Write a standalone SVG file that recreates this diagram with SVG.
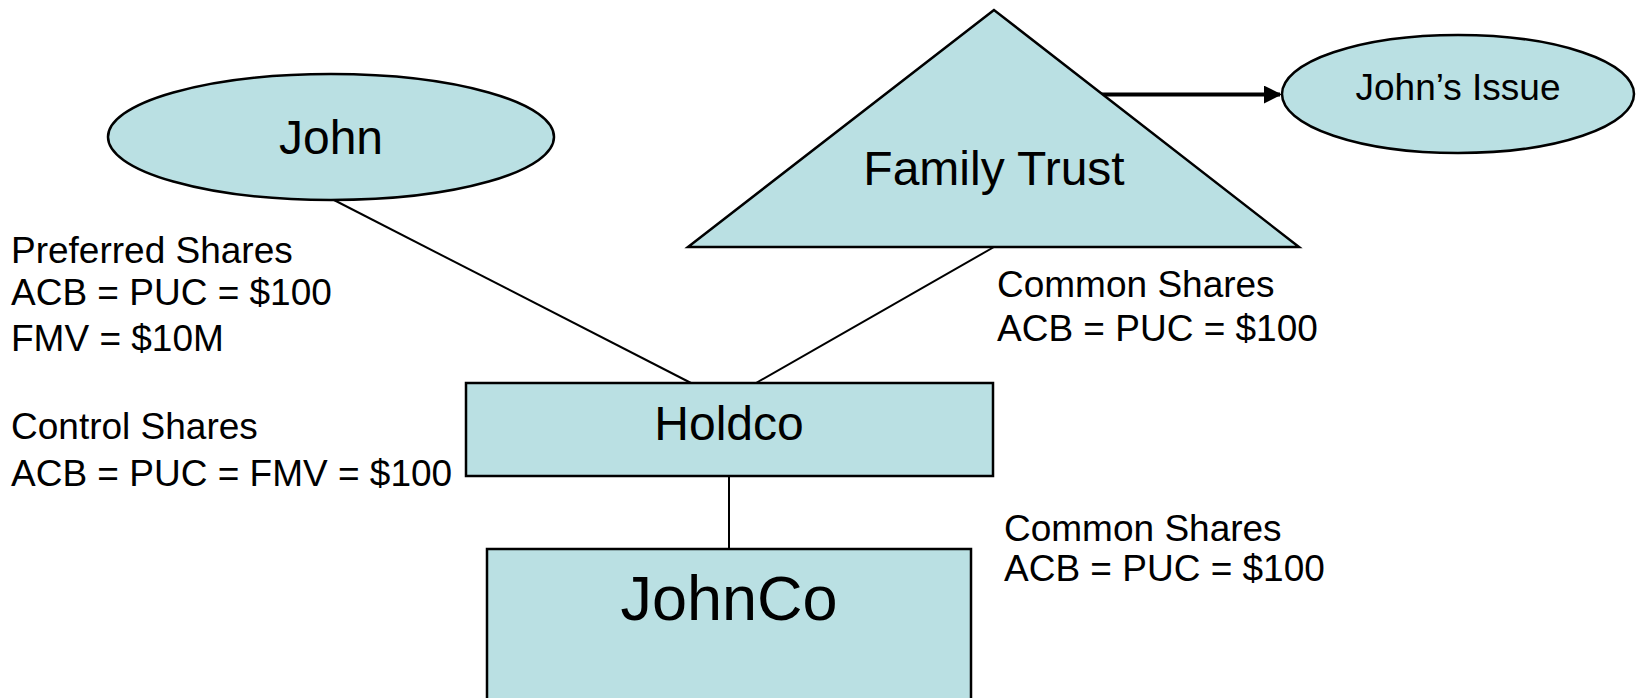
<svg xmlns="http://www.w3.org/2000/svg" width="1637" height="698" viewBox="0 0 1637 698">
  <style>
    .shape { fill: #bae0e3; stroke: #000; stroke-width: 2.5; }
    .link { stroke: #000; stroke-width: 2; fill: none; }
    .big { font-family: "Liberation Sans", Arial, sans-serif; font-size: 48px; fill: #000; text-anchor: middle; }
    .label { font-family: "Liberation Sans", Arial, sans-serif; font-size: 37px; fill: #000; }
  </style>
  <defs>
    <marker id="arrowhead" viewBox="0 0 10 10" refX="9" refY="5" markerWidth="4.5" markerHeight="4.5" orient="auto" markerUnits="strokeWidth">
      <path d="M0,0 L10,5 L0,10 z" fill="#000"/>
    </marker>
  </defs>

  <rect width="1637" height="698" fill="#fff"/>

  <!-- connectors -->
  <g id="connectors">
    <line class="link" x1="332" y1="199" x2="691" y2="383"/>
    <line class="link" x1="994" y1="247" x2="756" y2="383"/>
    <line class="link" x1="729" y1="476" x2="729" y2="549"/>
    <line x1="1098" y1="94.5" x2="1280" y2="94.5" stroke="#000" stroke-width="4" marker-end="url(#arrowhead)"/>
  </g>

  <g id="john">
    <ellipse class="shape" cx="331" cy="137" rx="223" ry="63"/>
    <text class="big" x="331" y="154">John</text>
  </g>

  <g id="family-trust">
    <polygon class="shape" points="994,10 688,247 1299,247"/>
    <text class="big" x="994" y="185">Family Trust</text>
  </g>

  <g id="johns-issue">
    <ellipse class="shape" cx="1458" cy="94" rx="176" ry="59"/>
    <text class="label" x="1458" y="100" text-anchor="middle">John’s Issue</text>
  </g>

  <g id="holdco">
    <rect class="shape" x="466" y="383" width="527" height="93"/>
    <text class="big" x="729" y="440">Holdco</text>
  </g>

  <g id="johnco">
    <rect class="shape" x="487" y="549" width="484" height="170"/>
    <text class="big" x="729" y="620" style="font-size:63px">JohnCo</text>
  </g>

  <!-- share annotations -->
  <g id="labels">
    <text class="label" x="11" y="263">Preferred Shares</text>
    <text class="label" x="11" y="305">ACB = PUC = $100</text>
    <text class="label" x="11" y="351">FMV = $10M</text>
    <text class="label" x="11" y="439">Control Shares</text>
    <text class="label" x="11" y="486">ACB = PUC = FMV = $100</text>
    <text class="label" x="997" y="297">Common Shares</text>
    <text class="label" x="997" y="341">ACB = PUC = $100</text>
    <text class="label" x="1004" y="541">Common Shares</text>
    <text class="label" x="1004" y="581">ACB = PUC = $100</text>
  </g>
</svg>
